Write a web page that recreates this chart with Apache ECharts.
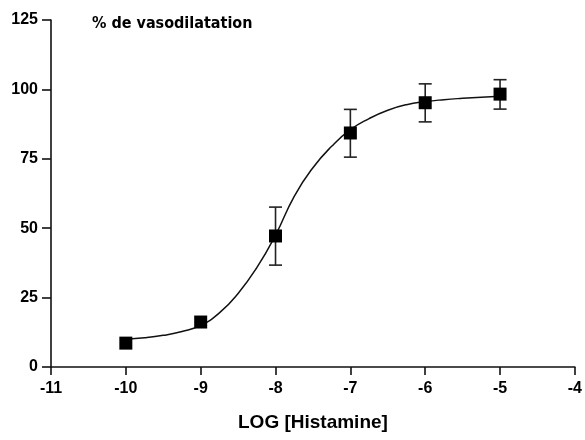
<!DOCTYPE html>
<html>
<head>
<meta charset="utf-8">
<script src="https://cdn.jsdelivr.net/npm/echarts@6/dist/echarts.min.js"></script>
<style>html,body{margin:0;padding:0;background:#fff;}#c{width:585px;height:440px;}</style>
</head>
<body>
<div id="c"></div>
<script>
// Measured points (log concentration, % vasodilatation)
var logConc = [-10, -9, -8, -7, -6, -5];
var meanVals = [8.6, 16.2, 47.2, 84.3, 95.2, 98.3];
var errLow = [null, null, 36.7, 75.6, 88.3, 92.9];
var errHigh = [null, null, 57.6, 92.8, 102.0, 103.5];
// Fitted curve
var curveX = [-10, -9.75, -9.5, -9.25, -9, -8.75, -8.5, -8.25, -8, -7.75, -7.5, -7.25, -7, -6.75, -6.5, -6.25, -6, -5.75, -5.5, -5.25, -5];
var curveY = [10.0, 10.5, 11.4, 12.8, 15.0, 19.5, 26.5, 35.8, 47.5, 61.5, 71.8, 79.5, 85.5, 89.5, 92.5, 94.5, 95.6, 96.3, 96.8, 97.2, 97.5];
var yTicks = [0, 25, 50, 75, 100, 125];
var xTicks = [-11, -10, -9, -8, -7, -6, -5, -4];

var chart = echarts.init(document.getElementById('c'), null, {renderer: 'canvas'});
var pts = logConc.map(function (x, i) { return [x, meanVals[i]]; });
var errs = [];
logConc.forEach(function (x, i) { if (errLow[i] != null) errs.push([x, errLow[i], errHigh[i]]); });
var curve = curveX.map(function (x, i) { return [x, curveY[i]]; });
var axisLineStyle = {color: '#111', width: 1.6};
var tickFont = {color: '#000', fontFamily: 'Liberation Sans', fontWeight: 'bold', fontSize: 16};

chart.setOption({
  animation: false,
  backgroundColor: '#fff',
  title: {
    text: '% de vasodilatation',
    left: 87, top: 11,
    textStyle: {fontFamily: '"DejaVu Sans Condensed", "DejaVu Sans", sans-serif', fontWeight: 'bold', fontSize: 16, color: '#000'}
  },
  grid: {left: 51, right: 8, top: 20, bottom: 73},
  xAxis: {
    type: 'value', min: xTicks[0], max: xTicks[xTicks.length - 1], interval: 1,
    name: 'LOG [Histamine]', nameLocation: 'middle', nameGap: 46,
    nameTextStyle: {fontFamily: 'Liberation Sans', fontWeight: 'bold', fontSize: 19, color: '#000'},
    axisLine: {lineStyle: axisLineStyle},
    axisTick: {show: true, length: 8, lineStyle: axisLineStyle},
    axisLabel: Object.assign({margin: 14}, tickFont),
    splitLine: {show: false}
  },
  yAxis: {
    type: 'value', min: yTicks[0], max: yTicks[yTicks.length - 1], interval: 25,
    axisLine: {show: true, lineStyle: axisLineStyle},
    axisTick: {show: true, length: 9, lineStyle: axisLineStyle},
    axisLabel: Object.assign({margin: 13}, tickFont),
    splitLine: {show: false}
  },
  series: [
    {
      type: 'line', data: curve, smooth: true, symbol: 'none',
      lineStyle: {color: '#111', width: 1.5}, z: 2
    },
    {
      type: 'custom', data: errs, z: 3,
      renderItem: function (params, api) {
        var x = api.value(0);
        var lo = api.coord([x, api.value(1)]);
        var hi = api.coord([x, api.value(2)]);
        var w = 6.5;
        var st = {stroke: '#222', lineWidth: 1.6};
        return {type: 'group', children: [
          {type: 'line', shape: {x1: lo[0], y1: lo[1], x2: hi[0], y2: hi[1]}, style: st},
          {type: 'line', shape: {x1: lo[0] - w, y1: lo[1], x2: lo[0] + w, y2: lo[1]}, style: st},
          {type: 'line', shape: {x1: hi[0] - w, y1: hi[1], x2: hi[0] + w, y2: hi[1]}, style: st}
        ]};
      }
    },
    {
      type: 'scatter', data: pts, symbol: 'rect', symbolSize: 13,
      itemStyle: {color: '#000', opacity: 1}, z: 4
    }
  ]
});
</script>
</body>
</html>
